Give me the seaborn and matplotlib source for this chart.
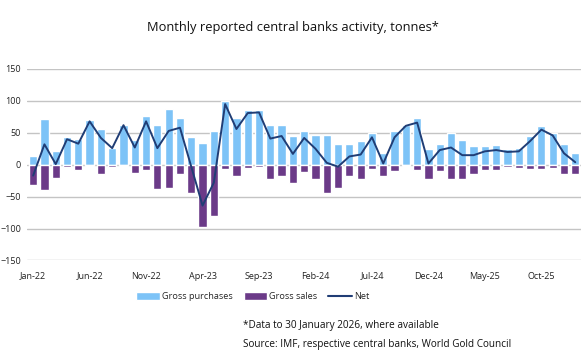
import matplotlib
matplotlib.use("Agg")
import matplotlib.pyplot as plt
from matplotlib.patches import Patch
from matplotlib.lines import Line2D
import numpy as np
import pandas as pd
import seaborn as sns

# monthly data, Jan-22 .. Jan-26 (tonnes)
months = pd.date_range("2022-01-01", periods=49, freq="MS").strftime("%b-%y").tolist()
gross_purchases = [13, 71, 21, 43, 41, 70, 56, 27, 63, 38,
                   76, 63, 88, 74, 43, 34, 53, 100, 74, 85,
                   85, 63, 63, 45, 53, 46, 46, 33, 32, 37,
                   49, 19, 53, 63, 74, 24, 32, 50, 38, 30,
                   30, 31, 24, 26, 45, 60, 50, 32, 19]
gross_sales = [-31, -39, -21, -4, -8, -2, -15, -4, -2, -13,
               -9, -38, -36, -15, -45, -98, -80, -6, -18, -5,
               -4, -23, -18, -28, -11, -22, -44, -36, -18, -22,
               -7, -18, -10, -2, -9, -23, -10, -23, -23, -14,
               -9, -8, -4, -5, -7, -6, -5, -14, -15]
net = [-17, 32, 1, 40, 33, 68, 42, 26, 62, 27,
       68, 26, 53, 58, -3, -64, -28, 95, 56, 81,
       82, 41, 45, 17, 42, 25, 3, -3, 13, 16,
       43, 2, 43, 61, 66, 2, 23, 27, 15, 15,
       21, 23, 20, 21, 37, 55, 46, 18, 4]

c_buy = "#7dc3f7"
c_sell = "#6b3a88"
c_net = "#203d75"

sns.set_style("white")
plt.rcParams["font.family"] = ["Open Sans", "DejaVu Sans"]

df = pd.DataFrame({"month": months, "purchases": gross_purchases,
                   "sales": gross_sales, "net": net})
df["pos"] = np.arange(len(df))

fig = plt.figure(figsize=(5.85, 3.62), dpi=100)
ax = fig.add_axes([0.047, 0.2804, 0.946, 0.529])

sns.barplot(data=df, x="month", y="purchases", color=c_buy, width=0.73,
            saturation=1, ax=ax, order=months)
sns.barplot(data=df, x="month", y="sales", color=c_sell, width=0.73,
            saturation=1, ax=ax, order=months)
sns.lineplot(data=df, x="pos", y="net", color=c_net, linewidth=1.4, ax=ax)

ax.set_xlim(-0.5, len(months) - 0.5)
ax.set_ylim(-150, 150)
ax.set_yticks(range(-150, 151, 50))
ax.set_xticks(range(0, len(months), 5))
ax.set_xticklabels(months[::5])
ax.tick_params(axis="both", length=0, labelsize=6.5, colors="#222222")
ax.tick_params(axis="x", pad=8)
ax.tick_params(axis="y", pad=4.5)
ax.set_xlabel("")
ax.set_ylabel("")
ax.grid(axis="y", color="#c4c4c4", linewidth=1)
ax.set_axisbelow(True)
sns.despine(ax=ax, left=True, bottom=True)

fig.text(0.5, 0.925, "Monthly reported central banks activity, tonnes*",
         ha="center", va="center", fontsize=9.3, color="#111111")

handles = [Patch(facecolor=c_buy, label="Gross purchases"),
           Patch(facecolor=c_sell, label="Gross sales"),
           Line2D([0], [0], color=c_net, linewidth=1.5, label="Net")]
fig.legend(handles=handles, loc="center", bbox_to_anchor=(0.432, 0.18), ncol=3,
           frameon=False, fontsize=6.6, handlelength=2.6, handleheight=0.9,
           handletextpad=0.2, columnspacing=1.2)

fig.text(0.415, 0.1, "*Data to 30 January 2026, where available",
         ha="left", va="center", fontsize=7.2, color="#111111")
fig.text(0.415, 0.047, "Source: IMF, respective central banks, World Gold Council",
         ha="left", va="center", fontsize=7.2, color="#111111")

fig.savefig("out.png", dpi=100)
